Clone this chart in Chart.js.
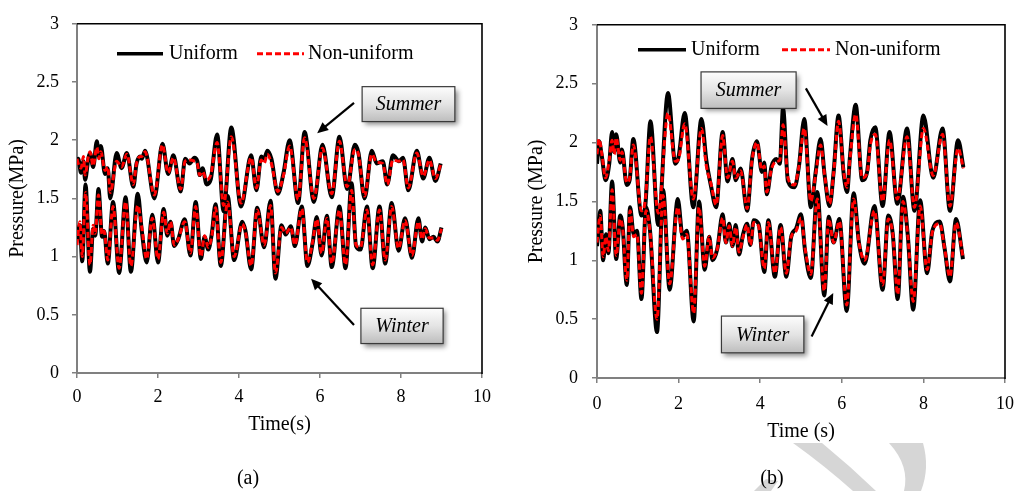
<!DOCTYPE html>
<html><head><meta charset="utf-8">
<script src="https://cdn.jsdelivr.net/npm/chart.js@4.4.1/dist/chart.umd.min.js"></script>
<style>
html,body{margin:0;padding:0;background:#fff;}
body{width:1024px;height:491px;position:relative;overflow:hidden;font-family:"Liberation Serif","Times New Roman",serif;}
#wm{position:absolute;left:0;top:0;}
#ca{position:absolute;left:0;top:0;}
#cb{position:absolute;left:520px;top:0;}
.lab{position:absolute;font-size:20px;color:#000;transform:translate(-50%,-50%);white-space:nowrap;}
</style></head><body>
<svg id="wm" width="1024" height="491">
<path d="M793,443 L822,443 Q850,466 876,491 L853,491 Q825,466 793,443 Z" fill="#d6d6d6"/>
<path d="M889,443 L923,443 Q930,468 921,491 L904,491 Q910,466 889,443 Z" fill="#d6d6d6"/>
<path d="M754,491 L766,479 L778,481 L771,491 Z" fill="#d6d6d6"/>
</svg>
<canvas id="ca" width="500" height="491"></canvas>
<canvas id="cb" width="504" height="491"></canvas>
<div class="lab" style="left:248px;top:477px">(a)</div>
<div class="lab" style="left:772px;top:477px">(b)</div>
<script>
// ---------- data ----------
const xTickValues = [0, 2, 4, 6, 8, 10];
const xTickLabels = ['0', '2', '4', '6', '8', '10'];
const yTickValues = [0, 0.5, 1, 1.5, 2, 2.5, 3];
const yTickLabels = ['0', '0.5', '1', '1.5', '2', '2.5', '3'];
const seriesNames = ['Uniform', 'Non-uniform'];

// chart (a) summer
const tSumA = [0,0.03,0.1,0.16,0.2,0.28,0.32,0.4,0.49,0.54,0.59,0.69,0.76,0.82,0.98,1.1,1.23,1.39,1.47,1.56,1.6,1.68,1.91,2.11,2.25,2.38,2.56,2.67,2.78,2.9,2.97,3.03,3.1,3.2,3.3,3.46,3.62,3.81,4.05,4.3,4.43,4.55,4.62,4.7,4.8,4.96,5.1,5.25,5.46,5.62,5.85,6.06,6.29,6.48,6.67,6.86,6.95,7.1,7.28,7.4,7.55,7.66,7.8,7.95,8.05,8.18,8.39,8.55,8.7,8.85,8.98];
const uniSumA = [1.80,1.84,1.72,1.82,1.66,1.84,1.89,1.77,1.99,1.86,1.95,1.71,1.76,1.50,1.89,1.76,1.89,1.60,1.80,1.86,1.84,1.91,1.50,1.97,1.71,1.87,1.56,1.84,1.80,1.85,1.82,1.70,1.76,1.62,1.66,2.05,1.39,2.11,1.43,1.87,1.57,1.86,1.84,1.91,1.84,1.54,1.72,2.00,1.46,2.07,1.47,1.96,1.51,2.03,1.58,1.96,1.89,1.50,1.91,1.80,1.82,1.62,1.87,1.82,1.85,1.57,1.91,1.67,1.85,1.65,1.80];
const nonSumA = [1.84,1.80,1.76,1.86,1.70,1.86,1.90,1.78,1.94,1.84,1.90,1.74,1.77,1.55,1.82,1.77,1.88,1.62,1.80,1.86,1.86,1.90,1.53,1.96,1.72,1.85,1.58,1.82,1.83,1.82,1.80,1.70,1.73,1.66,1.70,1.98,1.44,2.03,1.46,1.85,1.59,1.83,1.80,1.88,1.80,1.56,1.70,1.95,1.49,2.02,1.50,1.93,1.54,1.99,1.60,1.92,1.88,1.52,1.88,1.81,1.80,1.62,1.83,1.82,1.83,1.59,1.89,1.69,1.83,1.67,1.79];
// chart (a) winter
const tWinA = [0,0.07,0.13,0.21,0.32,0.40,0.45,0.53,0.62,0.67,0.76,0.89,1.04,1.2,1.33,1.5,1.6,1.72,1.86,2.0,2.14,2.23,2.31,2.4,2.5,2.66,2.8,2.93,3.06,3.15,3.24,3.33,3.42,3.55,3.72,3.88,4.08,4.16,4.3,4.45,4.62,4.78,4.9,5.05,5.15,5.28,5.38,5.55,5.69,5.82,5.92,6.04,6.17,6.29,6.48,6.63,6.78,6.89,7.0,7.16,7.3,7.47,7.61,7.77,7.94,8.1,8.27,8.43,8.52,8.6,8.7,8.8,8.9,9.0];
const uniWinA = [1.14,1.27,0.96,1.62,0.87,1.24,1.18,1.58,1.17,1.22,0.94,1.47,0.86,1.51,0.87,1.54,1.22,0.95,1.36,0.95,1.41,1.18,1.30,1.09,1.15,1.32,1.01,1.47,0.98,1.17,1.06,1.20,1.45,0.92,1.52,0.97,1.30,1.22,0.89,1.42,1.08,1.48,0.81,1.27,1.19,1.26,1.09,1.43,0.92,1.12,1.34,1.01,1.35,0.91,1.43,0.90,1.63,1.09,1.06,1.43,0.90,1.43,0.94,1.46,1.05,1.33,0.99,1.33,1.13,1.25,1.15,1.17,1.13,1.25];
const nonWinA = [1.10,1.30,1.00,1.55,0.93,1.27,1.20,1.53,1.19,1.22,0.97,1.43,0.90,1.47,0.92,1.44,1.25,0.98,1.33,0.98,1.38,1.20,1.30,1.10,1.15,1.30,1.03,1.43,1.00,1.18,1.08,1.18,1.42,0.95,1.47,1.00,1.28,1.21,0.92,1.40,1.10,1.44,0.86,1.25,1.20,1.25,1.10,1.41,0.95,1.13,1.32,1.03,1.33,0.94,1.40,0.93,1.57,1.10,1.08,1.40,0.93,1.40,0.97,1.43,1.07,1.31,1.01,1.30,1.15,1.24,1.16,1.16,1.14,1.24];

// chart (b) summer
const tSumB = [0,0.05,0.12,0.21,0.3,0.37,0.42,0.47,0.57,0.61,0.73,0.8,0.89,1.09,1.18,1.31,1.5,1.74,1.92,2.0,2.15,2.36,2.56,2.68,2.8,2.92,3.08,3.2,3.32,3.4,3.52,3.68,3.8,3.92,4.04,4.1,4.16,4.28,4.4,4.48,4.56,4.68,4.84,4.95,5.08,5.24,5.36,5.48,5.58,5.7,5.8,5.92,6.05,6.13,6.2,6.34,6.5,6.62,6.7,6.82,7.0,7.17,7.36,7.6,7.78,8.0,8.24,8.47,8.65,8.85,8.98];
const uniSumB = [1.82,2.01,1.88,1.68,1.82,2.09,1.92,2.07,1.83,1.94,1.64,1.68,2.03,1.38,1.45,2.18,1.30,2.42,1.82,1.88,2.25,1.45,2.20,1.85,1.62,1.45,2.09,1.67,1.86,1.68,1.78,1.42,1.86,2.01,1.75,1.83,1.56,1.80,1.86,1.82,2.29,1.67,1.62,1.80,2.20,1.45,1.75,2.03,1.72,1.46,1.75,2.23,1.72,1.58,1.88,2.32,1.68,1.75,2.02,2.13,1.46,2.09,1.48,2.12,1.42,2.23,1.70,2.12,1.42,2.02,1.79];
const nonSumB = [1.90,2.03,1.90,1.70,1.85,2.02,1.90,2.04,1.85,1.92,1.66,1.70,1.98,1.42,1.50,2.05,1.40,2.25,1.84,1.86,2.16,1.52,2.12,1.80,1.64,1.47,2.06,1.70,1.84,1.70,1.76,1.44,1.85,2.00,1.77,1.80,1.58,1.78,1.84,1.85,2.15,1.70,1.64,1.80,2.12,1.50,1.73,1.98,1.72,1.48,1.74,2.18,1.74,1.62,1.86,2.24,1.70,1.74,1.98,2.07,1.50,2.02,1.52,2.05,1.45,2.12,1.72,2.07,1.46,1.95,1.78];
// chart (b) winter
const tWinB = [0,0.08,0.15,0.22,0.28,0.37,0.47,0.57,0.63,0.73,0.81,0.9,0.98,1.09,1.2,1.3,1.47,1.62,1.78,1.98,2.1,2.2,2.37,2.5,2.64,2.75,2.83,2.95,3.08,3.16,3.24,3.32,3.4,3.48,3.58,3.68,3.76,3.84,3.96,4.1,4.2,4.36,4.5,4.64,4.76,4.88,5.0,5.1,5.24,5.4,5.57,5.68,5.8,5.94,6.12,6.29,6.42,6.56,6.8,7.0,7.14,7.25,7.37,7.5,7.62,7.75,7.92,8.09,8.22,8.4,8.52,8.65,8.8,8.97];
const uniWinB = [1.12,1.42,1.00,1.22,1.06,1.67,1.01,1.38,1.28,0.79,1.45,1.22,1.25,0.67,1.45,1.25,0.39,1.60,0.75,1.52,1.20,1.25,0.48,1.50,0.92,1.20,1.00,1.10,1.39,1.15,1.31,1.12,1.30,1.05,1.22,1.31,1.13,1.34,1.31,0.90,1.34,0.86,1.30,0.86,1.20,1.27,1.39,1.08,0.85,1.58,0.70,1.37,1.15,1.35,0.57,1.57,1.15,0.97,1.46,0.75,1.38,1.22,0.67,1.54,1.20,0.58,1.51,0.89,1.25,1.33,1.10,0.82,1.35,1.01];
const nonWinB = [1.15,1.38,1.03,1.20,1.08,1.60,1.04,1.35,1.27,0.83,1.42,1.20,1.22,0.72,1.42,1.25,0.50,1.55,0.80,1.45,1.18,1.22,0.55,1.45,0.95,1.20,1.02,1.10,1.36,1.15,1.29,1.12,1.28,1.07,1.20,1.30,1.13,1.32,1.29,0.93,1.32,0.89,1.28,0.89,1.20,1.25,1.36,1.10,0.88,1.52,0.74,1.35,1.15,1.33,0.62,1.52,1.15,1.00,1.42,0.79,1.35,1.22,0.71,1.50,1.20,0.65,1.46,0.92,1.24,1.31,1.10,0.86,1.32,1.03];

// ---------- helpers ----------
const FAMILY = '"Liberation Serif", "Times New Roman", serif';
function pts(t, v) { return t.map((x, i) => ({ x: x, y: v[i] })); }
function uniDs(t, v) {
  return { label: seriesNames[0], data: pts(t, v), borderColor: '#000', borderWidth: 4, pointRadius: 0,
    cubicInterpolationMode: 'monotone', order: 1, fill: false };
}
function nonDs(t, v) {
  return { label: seriesNames[1], data: pts(t, v), borderColor: '#ff0000', borderWidth: 3, borderDash: [6, 3],
    pointRadius: 0, cubicInterpolationMode: 'monotone', order: 0, fill: false };
}
function toPx(chart, t, v) { return [chart.scales.x.getPixelForValue(t), chart.scales.y.getPixelForValue(v)]; }

const decor = {
  id: 'decor',
  beforeDatasetsDraw(chart) {
    const { ctx, chartArea: a } = chart;
    ctx.save();
    ctx.strokeStyle = '#000'; ctx.lineWidth = 1.6;
    ctx.beginPath(); ctx.moveTo(a.left, a.top); ctx.lineTo(a.right, a.top); ctx.lineTo(a.right, a.bottom + 1); ctx.stroke();
    ctx.restore();
  },
  afterDraw(chart, args, o) {
    const { ctx, chartArea: a } = chart;
    ctx.save();
    const font = '20px ' + FAMILY;
    const ly = a.top + o.legend.y;
    o.legend.items.forEach(it => {
      ctx.beginPath(); ctx.strokeStyle = it.color; ctx.lineWidth = it.width; ctx.setLineDash(it.dash || []);
      ctx.moveTo(a.left + it.x0, ly); ctx.lineTo(a.left + it.x1, ly); ctx.stroke();
      ctx.setLineDash([]);
      ctx.fillStyle = '#000'; ctx.font = font; ctx.textBaseline = 'middle'; ctx.textAlign = 'left';
      ctx.fillText(it.text, a.left + it.tx, ly);
    });
    o.callouts.forEach(c => {
      const [x0, y0] = toPx(chart, c.box[0], c.box[1]);
      const [x1, y1] = toPx(chart, c.box[2], c.box[3]);
      const w = x1 - x0, h = y1 - y0;
      ctx.save();
      ctx.shadowColor = 'rgba(0,0,0,0.45)'; ctx.shadowBlur = 5; ctx.shadowOffsetX = 3; ctx.shadowOffsetY = 3;
      const g = ctx.createLinearGradient(0, y0, 0, y1);
      g.addColorStop(0, '#fdfdfd'); g.addColorStop(0.5, '#e4e4e4'); g.addColorStop(1, '#bdbdbd');
      ctx.fillStyle = g; ctx.fillRect(x0, y0, w, h);
      ctx.restore();
      ctx.strokeStyle = '#3a3a3a'; ctx.lineWidth = 1.2; ctx.strokeRect(x0, y0, w, h);
      ctx.fillStyle = '#000'; ctx.font = 'italic ' + font; ctx.textAlign = 'center'; ctx.textBaseline = 'middle';
      ctx.fillText(c.text, x0 + w / 2, y0 + h / 2 + 1);
      // arrow
      const [ax, ay] = toPx(chart, c.from[0], c.from[1]);
      const [bx, by] = toPx(chart, c.to[0], c.to[1]);
      const ang = Math.atan2(by - ay, bx - ax), L = 11, W = 5;
      const ex = bx - Math.cos(ang) * (L - 1), ey = by - Math.sin(ang) * (L - 1);
      ctx.strokeStyle = '#000'; ctx.lineWidth = 2.2;
      ctx.beginPath(); ctx.moveTo(ax, ay); ctx.lineTo(ex, ey); ctx.stroke();
      ctx.fillStyle = '#000'; ctx.beginPath();
      ctx.moveTo(bx, by);
      ctx.lineTo(bx - Math.cos(ang) * L + Math.sin(ang) * W, by - Math.sin(ang) * L - Math.cos(ang) * W);
      ctx.lineTo(bx - Math.cos(ang) * L - Math.sin(ang) * W, by - Math.sin(ang) * L + Math.cos(ang) * W);
      ctx.closePath(); ctx.fill();
    });
    ctx.restore();
  }
};

function makeChart(id, datasets, cfg) {
  return new Chart(document.getElementById(id), {
    type: 'line',
    data: { datasets: datasets },
    plugins: [decor],
    options: {
      responsive: false, animation: false, events: [],
      layout: { padding: { left: 0, top: cfg.top, right: cfg.right, bottom: 0 } },
      plugins: { legend: { display: false }, tooltip: { enabled: false }, decor: cfg.decor },
      scales: {
        x: {
          type: 'linear', min: 0, max: 10,
          afterFit(s) { s.height = cfg.xh; },
          afterBuildTicks(s) { s.ticks = xTickValues.map(v => ({ value: v })); },
          ticks: { callback: (v, i) => xTickLabels[i], color: '#000', font: { family: FAMILY, size: 18 },
            padding: cfg.xpad, maxRotation: 0, autoSkip: false },
          grid: { drawOnChartArea: false, drawTicks: true, tickLength: 5, color: '#808080', lineWidth: 1.5 },
          border: { display: true, color: '#808080', width: 2 },
          title: { display: true, text: cfg.xTitle, color: '#000', font: { family: FAMILY, size: 20 },
            padding: { top: 0, bottom: cfg.xtp } }
        },
        y: {
          type: 'linear', min: 0, max: 3,
          afterFit(s) { s.width = 77; },
          afterBuildTicks(s) { s.ticks = yTickValues.map(v => ({ value: v })); },
          ticks: { callback: (v, i) => yTickLabels[i], color: '#000', font: { family: FAMILY, size: 18 },
            padding: cfg.ypad, autoSkip: false },
          grid: { drawOnChartArea: false, drawTicks: true, tickLength: 5, color: '#808080', lineWidth: 1.5 },
          border: { display: true, color: '#808080', width: 2 },
          title: { display: true, text: cfg.yTitle, color: '#000', font: { family: FAMILY, size: 20 },
            padding: { top: cfg.ytp, bottom: 0 } }
        }
      }
    }
  });
}

function legendCfg(y, bx0, bx1, btx, rx0, rx1, rtx) {
  return { y: y, items: [
    { text: seriesNames[0], color: '#000', width: 3.6, x0: bx0, x1: bx1, tx: btx },
    { text: seriesNames[1], color: '#ff0000', width: 3, dash: [6, 3], x0: rx0, x1: rx1, tx: rtx }
  ] };
}

makeChart('ca', [nonDs(tSumA, nonSumA), nonDs(tWinA, nonWinA), uniDs(tSumA, uniSumA), uniDs(tWinA, uniWinA)], {
  top: 17, right: 18, xh: 118, xtp: 54, xpad: 8, ypad: 13, ytp: 6,
  xTitle: 'Time(s)', yTitle: 'Pressure(MPa)',
  decor: {
    legend: legendCfg(30, 40, 86, 92, 180, 227, 231),
    callouts: [
      { text: 'Summer', box: [7.04, 2.46, 9.33, 2.16], from: [6.84, 2.32], to: [5.93, 2.06] },
      { text: 'Winter', box: [7.01, 0.556, 9.04, 0.253], from: [6.84, 0.413], to: [5.78, 0.81] }
    ]
  }
});

makeChart('cb', [nonDs(tSumB, nonSumB), nonDs(tWinB, nonWinB), uniDs(tSumB, uniSumB), uniDs(tWinB, uniWinB)], {
  top: 13, right: 11, xh: 113, xtp: 47, xpad: 10, ypad: 14, ytp: 5,
  xTitle: 'Time (s)', yTitle: 'Pressure (MPa)',
  decor: {
    legend: legendCfg(25, 41, 89, 94, 185, 233, 238),
    callouts: [
      { text: 'Summer', box: [2.55, 2.60, 4.88, 2.29], from: [5.12, 2.46], to: [5.65, 2.14] },
      { text: 'Winter', box: [3.05, 0.526, 5.07, 0.214], from: [5.26, 0.353], to: [5.79, 0.723] }
    ]
  }
});
</script>
</body></html>
